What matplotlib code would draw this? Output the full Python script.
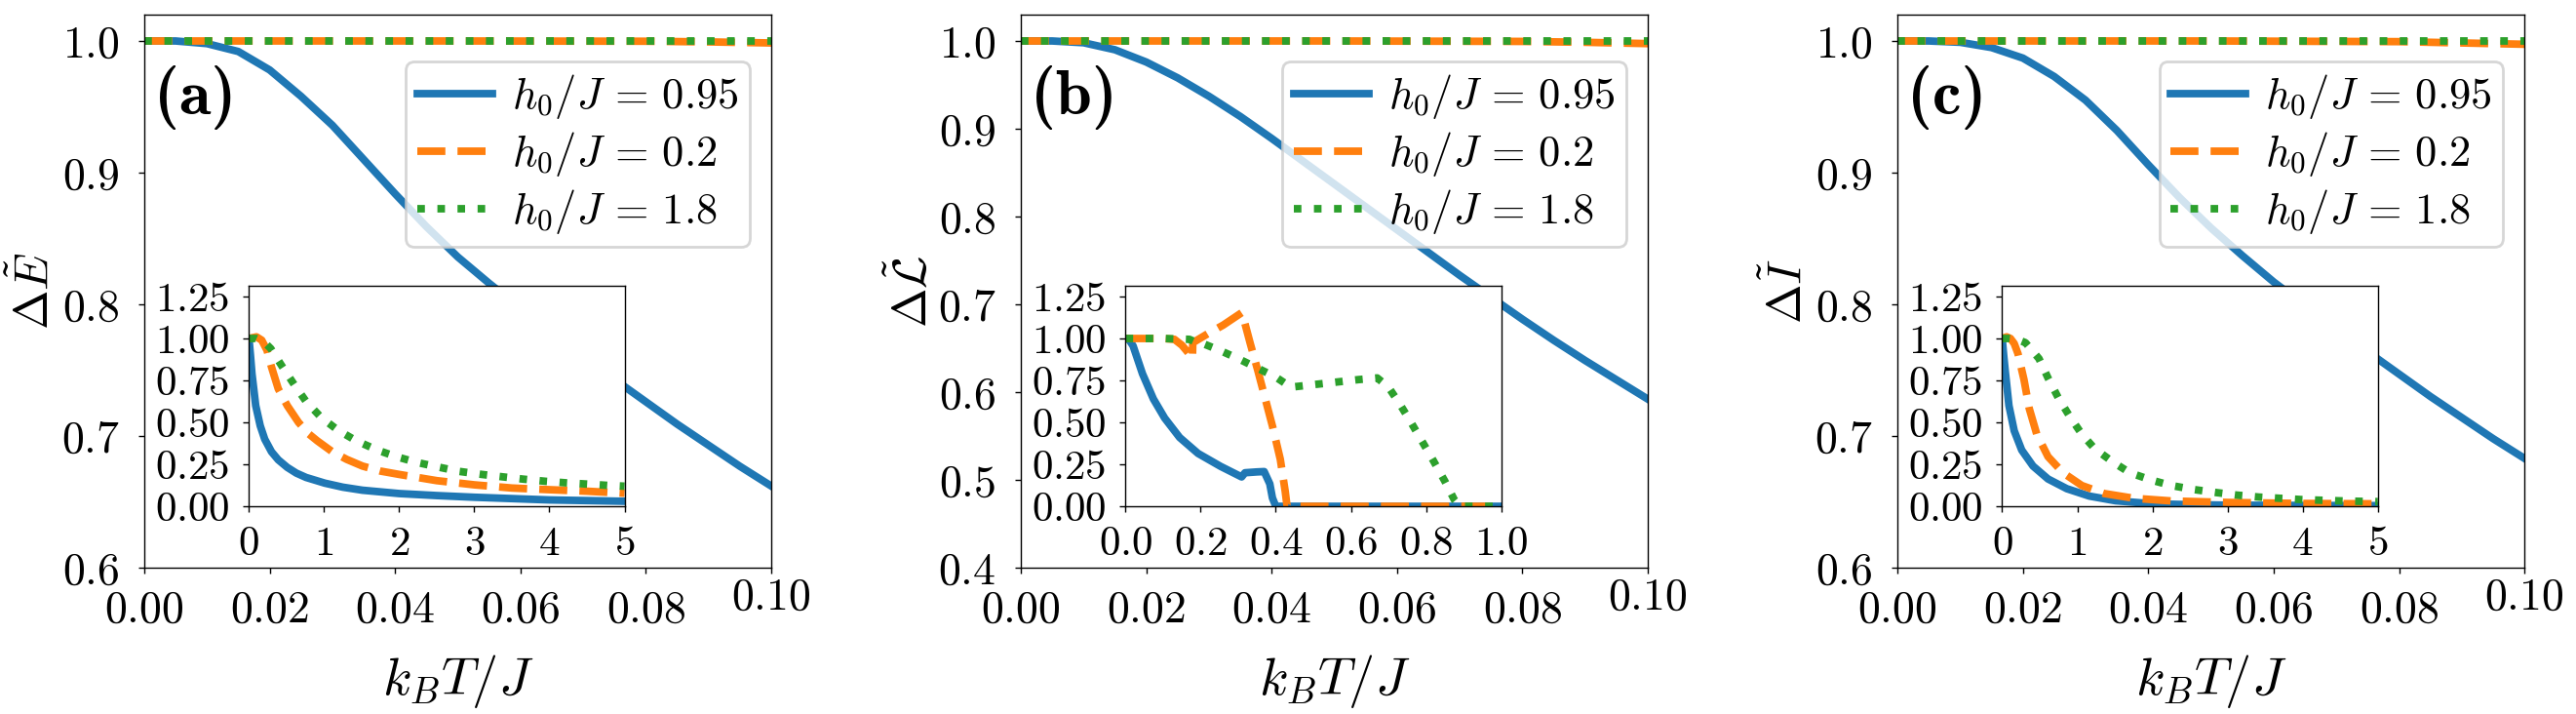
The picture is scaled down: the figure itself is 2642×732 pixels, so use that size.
import numpy as np
import matplotlib
matplotlib.use('Agg')
import matplotlib.pyplot as plt
from matplotlib.transforms import ScaledTranslation

plt.rcParams['font.family'] = 'serif'
plt.rcParams['font.serif'] = ['cmr10']
plt.rcParams['mathtext.fontset'] = 'cm'
plt.rcParams['axes.formatter.use_mathtext'] = True
plt.rcParams['axes.linewidth'] = 0.5

# ---------------- data ----------------
labels = [r'$h_0/J\,=\,0.95$', r'$h_0/J\,=\,0.2$', r'$h_0/J\,=\,1.8$']
colors = ['#1f77b4', '#ff7f0e', '#2ca02c']
styles = ['-', '--', ':']

# main panels, k_B T / J in [0, 0.1]
x_main = [0.0, 0.005, 0.01, 0.015, 0.02, 0.025, 0.03, 0.035, 0.04, 0.045, 0.05,
          0.055, 0.06, 0.065, 0.07, 0.075, 0.08, 0.085, 0.09, 0.095, 0.1]
blue_a = [1.0, 1.0, 0.998, 0.992, 0.978, 0.958, 0.936, 0.910, 0.884, 0.859, 0.836,
          0.816, 0.797, 0.779, 0.761, 0.743, 0.726, 0.709, 0.693, 0.677, 0.662]
blue_b = [1.0, 1.0, 0.998, 0.99, 0.976, 0.958, 0.937, 0.914, 0.889, 0.863, 0.837,
          0.811, 0.785, 0.759, 0.733, 0.708, 0.683, 0.659, 0.636, 0.614, 0.592]
blue_c = [1.0, 1.0, 0.999, 0.995, 0.987, 0.973, 0.955, 0.932, 0.906, 0.881, 0.858,
          0.837, 0.817, 0.799, 0.781, 0.764, 0.747, 0.730, 0.714, 0.698, 0.683]
x_flat = [0.0, 0.05, 0.08, 0.09, 0.1]
orange_a = [1.0, 1.0, 0.9998, 0.9993, 0.9985]
orange_b = [1.0, 1.0, 0.9995, 0.9985, 0.997]
orange_c = [1.0, 1.0, 0.9995, 0.9985, 0.9975]
green_main = [1.0, 1.0, 1.0, 1.0, 1.0]

# inset (a)
ia_blue_x = [0, 0.02, 0.04, 0.09, 0.15, 0.21, 0.3, 0.39, 0.51, 0.63, 0.76, 1.01, 1.25, 1.51, 2.0,
             2.5, 3.0, 4.0, 5.0]
ia_blue = [1.0, 0.9, 0.79, 0.60, 0.48, 0.40, 0.325, 0.277, 0.232, 0.198, 0.172, 0.138, 0.114, 0.096,
           0.076, 0.064, 0.054, 0.038, 0.03]
ia_orange_x = [0, 0.1, 0.17, 0.24, 0.3, 0.39, 0.51, 0.66, 0.8, 0.91, 1.11, 1.3, 1.51, 1.75, 2.0, 2.5,
               3.0, 3.5, 4.0, 4.5, 5.0]
ia_orange = [1.0, 1.01, 0.99, 0.93, 0.83, 0.70, 0.60, 0.50, 0.43, 0.39, 0.325, 0.28, 0.24, 0.21, 0.19,
             0.153, 0.128, 0.109, 0.099, 0.09, 0.078]
ia_green_x = [0, 0.1, 0.2, 0.29, 0.44, 0.6, 0.76, 0.96, 1.18, 1.43, 1.71, 1.96, 2.23, 2.53, 2.8, 3.1,
              3.37, 3.65, 3.95, 4.22, 4.52, 4.8, 5.0]
ia_green = [1.0, 1.0, 0.98, 0.94, 0.835, 0.727, 0.625, 0.53, 0.455, 0.39, 0.335, 0.296, 0.262, 0.233,
            0.208, 0.19, 0.176, 0.162, 0.149, 0.14, 0.132, 0.124, 0.12]

# inset (b)
ib_blue_x = [0, 0.01, 0.02, 0.045, 0.074, 0.104, 0.144, 0.193, 0.253, 0.309, 0.318, 0.35, 0.369,
             0.384, 0.391, 0.4, 1.0]
ib_blue = [1.0, 0.99, 0.956, 0.79, 0.64, 0.526, 0.41, 0.315, 0.238, 0.175, 0.2, 0.205, 0.207,
           0.134, 0.05, 0.0, 0.0]
ib_orange_x = [0, 0.05, 0.1, 0.13, 0.15, 0.165, 0.178, 0.179, 0.22, 0.26, 0.3, 0.31, 0.332, 0.352,
               0.372, 0.392, 0.412, 0.425, 0.43, 1.0]
ib_orange = [1.0, 1.0, 1.0, 0.995, 0.96, 0.92, 0.88, 0.975, 1.03, 1.08, 1.14, 1.155, 0.97, 0.81,
             0.64, 0.47, 0.28, 0.09, 0.0, 0.0]
ib_green_x = [0, 0.1, 0.17, 0.18, 0.2, 0.25, 0.3, 0.35, 0.4, 0.44, 0.5, 0.56, 0.62, 0.67, 0.7, 0.73,
              0.76, 0.79, 0.82, 0.85, 0.875, 0.89, 1.0]
ib_green = [1.0, 1.0, 0.995, 0.985, 0.975, 0.93, 0.88, 0.825, 0.77, 0.71, 0.725, 0.74, 0.755, 0.765,
            0.71, 0.61, 0.5, 0.385, 0.27, 0.15, 0.04, 0.0, 0.0]

# inset (c)
ic_blue_x = [0, 0.02, 0.04, 0.09, 0.16, 0.26, 0.41, 0.61, 0.86, 1.16, 1.51, 2.0, 2.5, 3.0, 4.0, 5.0]
ic_blue = [1.0, 0.9, 0.81, 0.60, 0.45, 0.335, 0.24, 0.163, 0.105, 0.061, 0.033, 0.015, 0.01, 0.007,
           0.005, 0.004]
ic_orange_x = [0, 0.06, 0.11, 0.16, 0.21, 0.29, 0.36, 0.46, 0.61, 0.81, 1.06, 1.36, 1.75, 2.25, 3.0,
               4.0, 5.0]
ic_orange = [1.0, 1.01, 1.0, 0.97, 0.91, 0.755, 0.583, 0.43, 0.296, 0.2, 0.124, 0.076, 0.048, 0.032,
             0.023, 0.017, 0.015]
ic_green_x = [0, 0.1, 0.2, 0.31, 0.49, 0.61, 0.75, 0.9, 1.06, 1.23, 1.48, 1.7, 1.98, 2.25, 2.55, 2.85,
              3.12, 3.42, 3.69, 3.99, 4.26, 4.54, 4.84, 5.0]
ic_green = [1.0, 1.0, 0.995, 0.975, 0.88, 0.765, 0.644, 0.535, 0.43, 0.344, 0.262, 0.2, 0.157, 0.124,
            0.1, 0.082, 0.067, 0.055, 0.048, 0.04, 0.036, 0.032, 0.029, 0.028]

panels = [
    dict(tag='(a)', ylabel=r'$\Delta\tilde{E}$', ylim=(0.6, 1.02), yticks=[0.6, 0.7, 0.8, 0.9, 1.0],
         main=[(x_main, blue_a), (x_flat, orange_a), (x_flat, green_main)],
         inset=[(ia_blue_x, ia_blue), (ia_orange_x, ia_orange), (ia_green_x, ia_green)],
         ixlim=(0, 5), ixticks=[0, 1, 2, 3, 4, 5]),
    dict(tag='(b)', ylabel=r'$\Delta\tilde{\mathcal{L}}$', ylim=(0.4, 1.03),
         yticks=[0.4, 0.5, 0.6, 0.7, 0.8, 0.9, 1.0],
         main=[(x_main, blue_b), (x_flat, orange_b), (x_flat, green_main)],
         inset=[(ib_blue_x, ib_blue), (ib_orange_x, ib_orange), (ib_green_x, ib_green)],
         ixlim=(0, 1), ixticks=[0.0, 0.2, 0.4, 0.6, 0.8, 1.0]),
    dict(tag='(c)', ylabel=r'$\Delta\tilde{I}$', ylim=(0.6, 1.02), yticks=[0.6, 0.7, 0.8, 0.9, 1.0],
         main=[(x_main, blue_c), (x_flat, orange_c), (x_flat, green_main)],
         inset=[(ic_blue_x, ic_blue), (ic_orange_x, ic_orange), (ic_green_x, ic_green)],
         ixlim=(0, 5), ixticks=[0, 1, 2, 3, 4, 5]),
]

# ---------------- figure ----------------
fig = plt.figure(figsize=(13.21, 3.66), dpi=200)
lefts = [0.0560, 0.3963, 0.7366]
lw = 2.8

axes = []
for left, p in zip(lefts, panels):
    ax = fig.add_axes([left, 0.2049, 0.2434, 0.7746])
    for (xs, ys), c, ls, lab in zip(p['main'], colors, styles, labels):
        ax.plot(xs, ys, color=c, ls=ls, lw=lw, label=lab)
    ax.set_xlim(0, 0.1)
    ax.set_ylim(*p['ylim'])
    ax.set_xticks([0.0, 0.02, 0.04, 0.06, 0.08, 0.1])
    ax.set_yticks(p['yticks'])
    ax.tick_params(labelsize=16.5, length=2.2, width=0.5)
    ax.tick_params(axis='y', pad=7)
    ax.tick_params(axis='x', pad=6)
    ax.set_xlabel(r'$k_BT/J$', fontsize=19.5, labelpad=8)
    ax.set_ylabel(p['ylabel'], fontsize=17.5, va='top')
    ax.yaxis.set_label_coords(-0.212, 0.5)
    ax.text(0.016, 0.85, p['tag'], transform=ax.transAxes, fontsize=24, family='cmb10',
            ha='left', va='center')
    ax.legend(loc='upper right', bbox_to_anchor=(0.966, 0.915), borderaxespad=0, fontsize=16,
              handletextpad=0.45, borderpad=0.25, labelspacing=0.2, handlelength=1.75)

    ins = ax.inset_axes([0.167, 0.111, 0.599, 0.399])
    for (xs, ys), c, ls in zip(p['inset'], colors, styles):
        ins.plot(xs, ys, color=c, ls=ls, lw=lw)
    ins.set_xlim(*p['ixlim'])
    ins.set_ylim(0, 1.315)
    ins.set_xticks(p['ixticks'])
    ins.set_yticks([0.0, 0.25, 0.5, 0.75, 1.0, 1.25])
    ins.tick_params(labelsize=15.5, length=2.2, width=0.5, pad=5)
    axes.append(ax)

# the last x tick label sits a bit higher in the original
fig.canvas.draw()
for ax in axes:
    lab = ax.xaxis.get_major_ticks()[-1].label1
    lab.set_transform(lab.get_transform() + ScaledTranslation(0, 4.5 / 72, fig.dpi_scale_trans))

fig.savefig('out.png', dpi=200)
